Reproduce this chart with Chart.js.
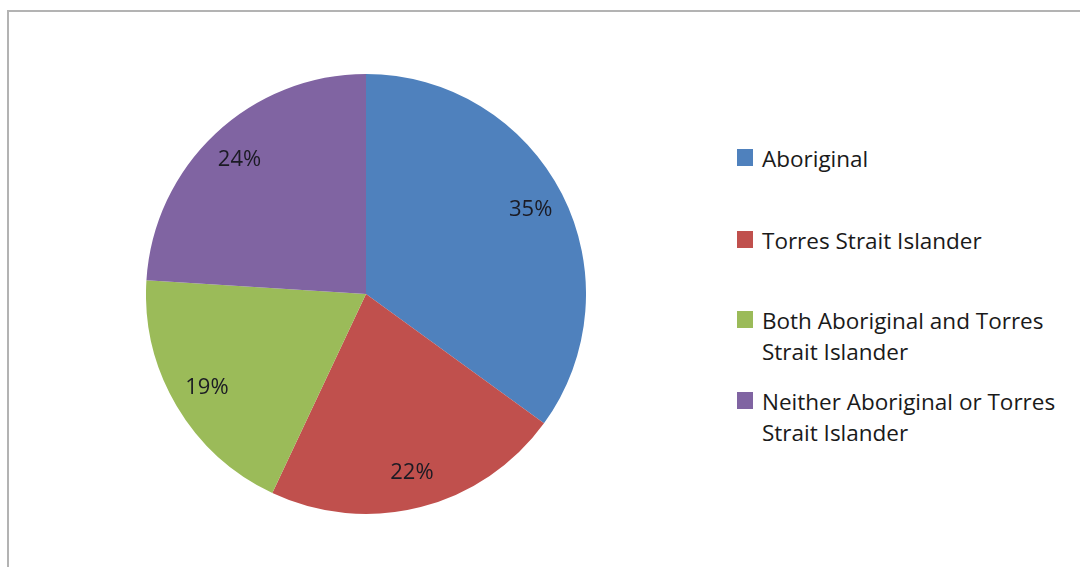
<!DOCTYPE html>
<html>
<head>
<meta charset="utf-8">
<script src="https://cdn.jsdelivr.net/npm/chart.js@4/dist/chart.umd.min.js"></script>
<style>
  html, body { margin: 0; padding: 0; background: #fff; }
  body { width: 1080px; height: 567px; position: relative; overflow: hidden; font-family: "Open Sans", sans-serif; }
  .marco { position: absolute; left: 7px; top: 10px; width: 1200px; height: 700px; border-top: 2px solid #b3b3b3; border-left: 2px solid #b3b3b3; box-sizing: border-box; }
  .torta { position: absolute; left: 146px; top: 73px; width: 440px; height: 442px; }
  .leyenda { position: absolute; left: 737px; top: 0; font-size: 22.5px; color: #1a1a1a; }
  .item { position: absolute; left: 0; white-space: nowrap; line-height: 31px; }
  .item .cuadro { position: absolute; left: 0; width: 16px; height: 17px; }
  .item .texto { position: absolute; left: 25px; }
</style>
</head>
<body>
<div class="marco"></div>
<div class="torta"><canvas id="chartIdentidad"></canvas></div>
<div class="leyenda" id="leyenda"></div>

<script>
// Identificación de los estudiantes (porcentaje por grupo)
const categorias = [
    ['Aboriginal'],
    ['Torres Strait Islander'],
    ['Both Aboriginal and Torres', 'Strait Islander'],
    ['Neither Aboriginal or Torres', 'Strait Islander']
];
const porcentajes = [35, 22, 19, 24];
const colores = ['#4f81bd', '#c0504d', '#9bbb59', '#8064a2'];

// posición vertical (centro de la primera línea) de cada entrada de la leyenda
const leyendaY = [158, 240, 320, 401];

// Etiquetas de porcentaje dentro de cada porción
const etiquetasPorcion = {
    id: 'etiquetasPorcion',
    afterDatasetsDraw(chart) {
        const ctx = chart.ctx;
        const meta = chart.getDatasetMeta(0);
        ctx.save();
        ctx.font = '22px "Open Sans", sans-serif';
        ctx.fillStyle = '#1b1b24';
        ctx.textAlign = 'center';
        ctx.textBaseline = 'middle';
        meta.data.forEach(function(arco, i) {
            var p = arco.getProps(['x', 'y', 'startAngle', 'endAngle', 'outerRadius'], true);
            var medio = (p.startAngle + p.endAngle) / 2;
            var r = p.outerRadius * 0.84;
            ctx.fillText(porcentajes[i] + '%', p.x + Math.cos(medio) * r, p.y + Math.sin(medio) * r);
        });
        ctx.restore();
    }
};

new Chart(document.getElementById('chartIdentidad'), {
    type: 'pie',
    data: {
        labels: categorias.map(c => c.join(' ')),
        datasets: [{
            data: porcentajes,
            backgroundColor: colores,
            borderWidth: 0
        }]
    },
    options: {
        responsive: true,
        maintainAspectRatio: false,
        animation: false,
        layout: { padding: 0 },
        plugins: {
            legend: { display: false },
            tooltip: { enabled: false }
        }
    },
    plugins: [etiquetasPorcion]
});

// Leyenda a la derecha
var leyenda = document.getElementById('leyenda');
categorias.forEach(function(lineas, i) {
    var item = document.createElement('div');
    item.className = 'item';
    item.style.top = (leyendaY[i] - 15.5) + 'px';
    var cuadro = document.createElement('div');
    cuadro.className = 'cuadro';
    cuadro.style.background = colores[i];
    cuadro.style.top = '6px';
    var texto = document.createElement('div');
    texto.className = 'texto';
    texto.innerHTML = lineas.join('<br>');
    item.appendChild(cuadro);
    item.appendChild(texto);
    leyenda.appendChild(item);
});
</script>
</body>
</html>
